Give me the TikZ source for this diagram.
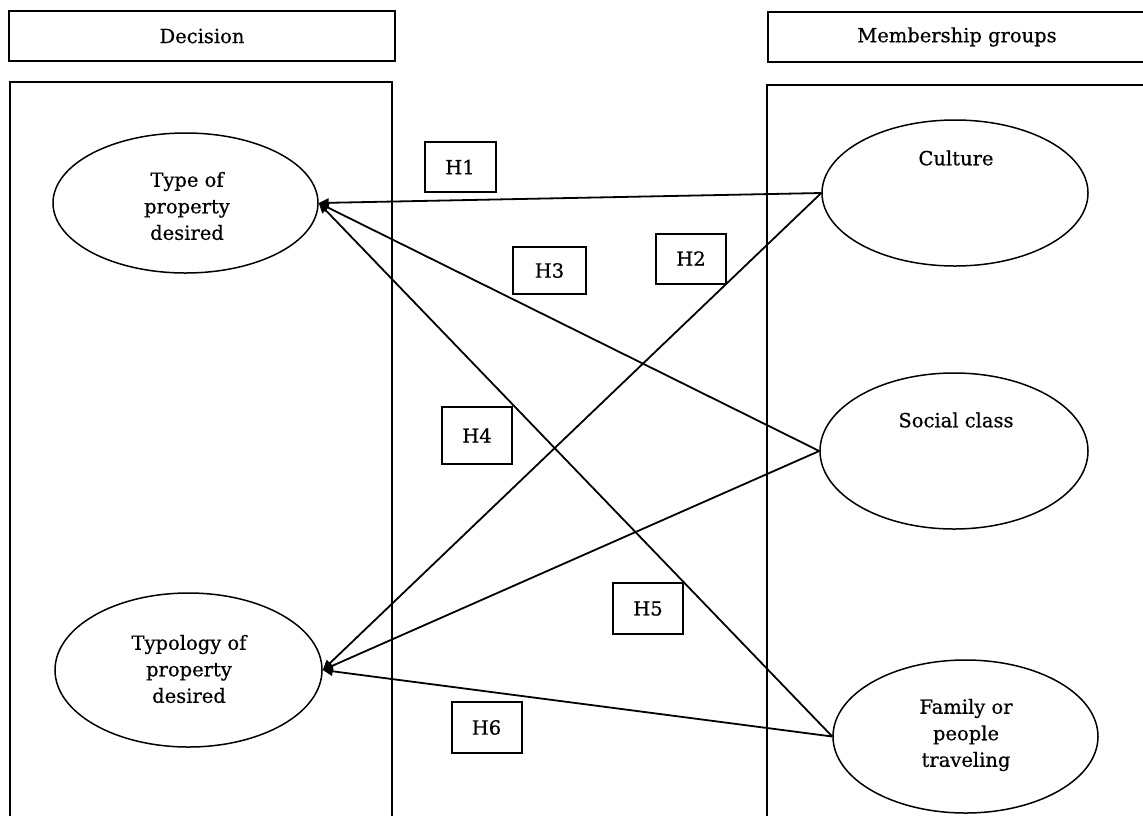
\documentclass[tikz,border=0pt]{standalone}
\usepackage{fontspec}
\setmainfont{DejaVu Serif}[FakeBold=0.6]
\usetikzlibrary{arrows.meta,shapes.geometric}
\begin{document}
\begin{tikzpicture}[x=1pt,y=-1pt,
  txt/.style={font=\fontsize{19.5}{26.5}\selectfont, align=center, inner sep=0pt},
  header/.style={draw, line width=2pt, minimum height=50pt, inner sep=0pt, font=\fontsize{19.5}{22}\selectfont},
  oval/.style={draw, ellipse, line width=1.5pt, inner sep=0pt},
  hbox/.style={draw, line width=2pt, minimum width=70pt, minimum height=50pt, inner sep=0pt, font=\fontsize{19.5}{22}\selectfont},
  panel/.style={draw, line width=1.6pt},
  link/.style={line width=1.8pt, -{Triangle[length=10pt,width=9pt]}}]
\useasboundingbox (0,0) rectangle (1143,815);
% headers
\node[header, minimum width=386pt] (hd) at (202,36) {Decision};
\node[header, minimum width=420pt, anchor=west] (hm) at (767,37) {};
\node[txt, font=\fontsize{19.5}{22}\selectfont] (hmt) at (957,37) {Membership groups};
% panels
\draw[panel] (10,840) -- (10,82) -- (392,82) -- (392,840);
\draw[panel] (767,840) -- (767,85) -- (1160,85);
% ellipses
\node[oval, minimum width=265pt, minimum height=140pt] (tp) at (185.5,203) {};
\node[txt] (tpt) at (187,206) {Type of\\property\\desired};
\node[oval, minimum width=267pt, minimum height=154pt] (ty) at (188.5,670) {};
\node[txt] (tyt) at (189,669) {Typology of\\property\\desired};
\node[oval, minimum width=266pt, minimum height=146pt] (cu) at (955,193) {};
\node[txt] (cut) at (956,158) {Culture};
\node[oval, minimum width=268pt, minimum height=156pt] (sc) at (954,451) {};
\node[txt] (sct) at (956,420) {Social class};
\node[oval, minimum width=265pt, minimum height=153pt] (fa) at (965.5,736.5) {};
\node[txt] (fat) at (966,735) {Family or\\people\\traveling};
% connectors
\draw[link] (cu.west) -- (tp.east);
\draw[link] (cu.west) -- (ty.east);
\draw[link] (sc.west) -- (tp.east);
\draw[link] (sc.west) -- (ty.east);
\draw[link] (fa.west) -- (tp.east);
\draw[link] (fa.west) -- (ty.east);
% hypothesis labels
\node[hbox, fill=white, minimum width=71pt] (h1) at (460,167) {H1};
\node[hbox, fill=white] (h2) at (691,258.5) {H2};
\node[hbox, fill=white, minimum width=73pt, minimum height=47pt] (h3) at (549.5,270.5) {H3};
\node[hbox, fill=white, minimum height=57pt] (h4) at (477,435.5) {H4};
\node[hbox, fill=white, minimum height=51pt] (h5) at (648,608.5) {H5};
\node[hbox, fill=white, minimum height=51pt] (h6) at (486.5,727.5) {H6};
\end{tikzpicture}
\end{document}
